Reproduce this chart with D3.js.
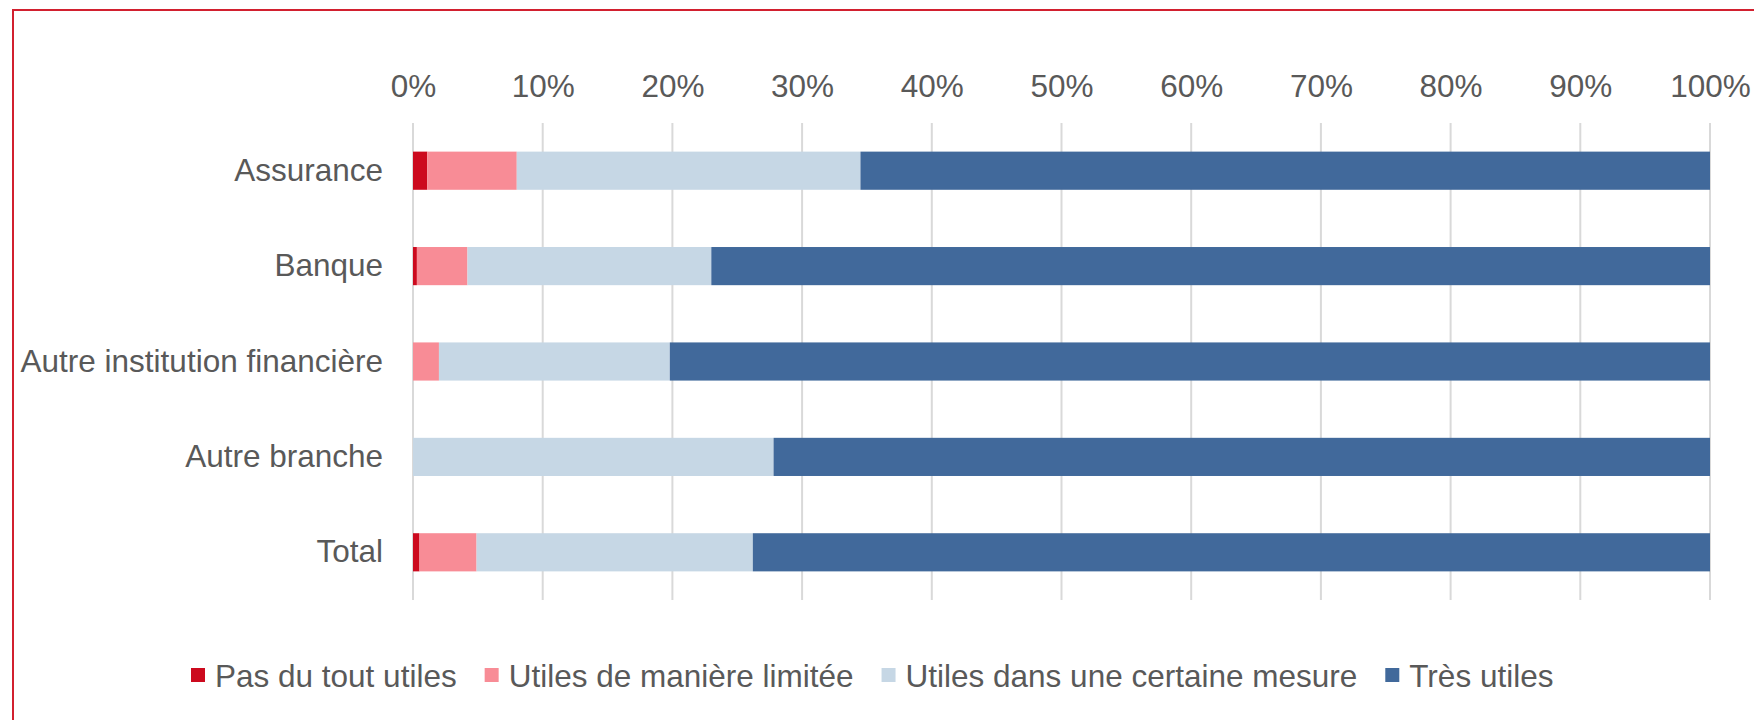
<!DOCTYPE html>
<html>
<head>
<meta charset="utf-8">
<script src="https://cdn.jsdelivr.net/npm/d3@7"></script>
<style>
    body { margin: 0; background: #fff; }
    svg { display: block; font-family: "Liberation Sans", Arial, sans-serif; }
</style>
</head>
<body>
<div id="chart"></div>
<script>

// Données
const categories = ["Assurance", "Banque", "Autre institution financière", "Autre branche", "Total"];
const series = ["Pas du tout utiles", "Utiles de manière limitée", "Utiles dans une certaine mesure", "Très utiles"];
const pasDuTout = [1.1, 0.3, 0, 0, 0.5];
const limitee = [6.9, 3.9, 2.0, 0, 4.4];
const certaineMesure = [26.5, 18.8, 17.8, 27.8, 21.3];
const tresUtiles = [65.5, 77.0, 80.2, 72.2, 73.8];
const ticks = [0, 10, 20, 30, 40, 50, 60, 70, 80, 90, 100];
const colors = ["#CC0A1E", "#F88C96", "#C6D7E5", "#41699B"];

const tidyData = categories.map((c, i) => ({
    cat: c,
    [series[0]]: pasDuTout[i],
    [series[1]]: limitee[i],
    [series[2]]: certaineMesure[i],
    [series[3]]: tresUtiles[i]
}));

//---------------------------------------------------------------------------------------

// Canevas
const width = 1754;
const height = 720;
const fontSize = 31.5;
const textColor = "#595959";

const svg = d3.select("#chart")
    .append("svg")
    .attr("width", width)
    .attr("height", height);

// cadre rouge (déborde à droite et en bas)
svg.append("rect")
    .attr("x", 13)
    .attr("y", 10)
    .attr("width", width)
    .attr("height", height)
    .attr("fill", "none")
    .attr("stroke", "#D2202F")
    .attr("stroke-width", 2);

//---------------------------------------------------------------------------------------

// Échelles
const scaleX = d3.scaleLinear()
    .domain([0, 100])
    .range([413, 1710]);

const scaleY = d3.scaleBand()
    .domain(categories)
    .range([123, 600])
    .paddingInner(0.6)
    .paddingOuter(0.3);

//---------------------------------------------------------------------------------------

// Grille verticale
svg.append("g")
    .selectAll("line")
    .data(ticks)
    .join("line")
    .attr("x1", d => scaleX(d))
    .attr("x2", d => scaleX(d))
    .attr("y1", 123)
    .attr("y2", 600)
    .attr("stroke", "#D9D9D9")
    .attr("stroke-width", 2);

// Axe des X (en haut)
const xAxis = g => g
    .attr("transform", "translate(0, 97)")
    .call(d3.axisTop(scaleX)
        .tickValues(ticks)
        .tickFormat(d => d + "%")
        .tickSize(0)
        .tickPadding(0))
    .call(g => g.select(".domain").remove())
    .selectAll("text")
    .attr("dy", 0)
    .style("font-size", fontSize + "px")
    .style("fill", textColor);

svg.append("g").call(xAxis);

//---------------------------------------------------------------------------------------

// Barres empilées
const stacked = d3.stack().keys(series)(tidyData);

svg.append("g")
    .selectAll("g")
    .data(stacked)
    .join("g")
    .attr("fill", (d, i) => colors[i])
    .selectAll("rect")
    .data(d => d)
    .join("rect")
    .attr("x", d => scaleX(d[0]))
    .attr("y", d => scaleY(d.data.cat))
    .attr("width", d => scaleX(d[1]) - scaleX(d[0]))
    .attr("height", scaleY.bandwidth());

// Axe des Y
const yAxis = g => g
    .attr("transform", "translate(383, 0)")
    .call(d3.axisLeft(scaleY).tickSize(0).tickPadding(0))
    .call(g => g.select(".domain").remove())
    .selectAll("text")
    .style("font-size", fontSize + "px")
    .style("fill", textColor);

svg.append("g").call(yAxis);

//---------------------------------------------------------------------------------------

// Légende
const legend = svg.append("g")
    .attr("transform", "translate(191, 0)");

let offset = 0;
series.forEach((s, i) => {
    const item = legend.append("g").attr("transform", `translate(${offset}, 0)`);
    item.append("rect")
        .attr("x", 0)
        .attr("y", 668)
        .attr("width", 14)
        .attr("height", 14)
        .attr("fill", colors[i]);
    const t = item.append("text")
        .attr("x", 24)
        .attr("y", 687)
        .style("font-size", fontSize + "px")
        .style("fill", textColor)
        .text(s);
    offset += 24 + t.node().getComputedTextLength() + 28;
});

</script>
</body>
</html>
